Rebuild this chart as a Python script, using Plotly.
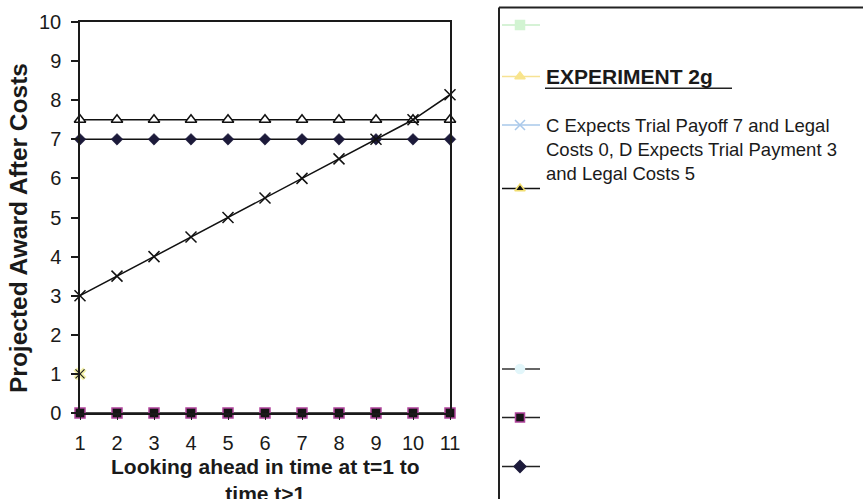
import plotly.graph_objects as go

# ---- data -------------------------------------------------------------
t = list(range(1, 12))
x_ticks = [str(v) for v in t]
y_ticks = list(range(0, 11))

projected_gap = [3.0, 3.5, 4.0, 4.5, 5.0, 5.5, 6.0, 6.5, 7.0, 7.5, 8.14]
c_expected = [7.5] * 11
d_expected = [7.0] * 11
zero_award = [0.0] * 11
first_step_t = [1]
first_step_val = [1.0]

legend_heading = "EXPERIMENT 2g"
legend_note = ("C Expects Trial Payoff 7 and Legal<br>"
               "Costs 0, D Expects Trial Payment 3<br>"
               "and Legal Costs 5")

FONT = "Liberation Sans, Arial, Helvetica, sans-serif"
W, H = 863, 499
# plot box in pixels
PL, PR, PT, PB = 80, 450, 22, 413

fig = go.Figure()

fig.add_trace(go.Scatter(
    x=t, y=c_expected, mode="lines+markers", cliponaxis=False,
    line=dict(color="#111111", width=1.5),
    marker=dict(symbol="triangle-up", size=10, color="white",
                line=dict(color="#111111", width=1.5))))
fig.add_trace(go.Scatter(
    x=t, y=d_expected, mode="lines+markers", cliponaxis=False,
    line=dict(color="#111111", width=1.5),
    marker=dict(symbol="diamond", size=9, color="#1c1a3a",
                line=dict(color="#1c1a3a", width=0.5))))
fig.add_trace(go.Scatter(
    x=t, y=projected_gap, mode="lines+markers", cliponaxis=False,
    line=dict(color="#111111", width=1.5),
    marker=dict(symbol="x-thin", size=11,
                line=dict(color="#111111", width=1.5))))
fig.add_trace(go.Scatter(
    x=t, y=zero_award, mode="lines+markers", cliponaxis=False,
    line=dict(color="#111111", width=1.5),
    marker=dict(symbol="square", size=10, color="#151515",
                line=dict(color="#b0449c", width=1.5))))
fig.add_trace(go.Scatter(
    x=first_step_t, y=first_step_val, mode="markers", cliponaxis=False,
    marker=dict(symbol="x", size=11, color="#f4f2a8",
                line=dict(color="#f4f2a8", width=0.5))))
fig.add_trace(go.Scatter(
    x=first_step_t, y=first_step_val, mode="markers", cliponaxis=False,
    marker=dict(symbol="x-thin", size=9,
                line=dict(color="#222222", width=1.2))))

# ---- legend panel (drawn on a pixel-scaled overlay axis) ---------------
LX0, LX1, LXM, LTX = 502, 540, 520, 545
legend_rows = [
    dict(y=25, line="#c8eec8", sym="square", mc="#d2f4d2", ml="#d2f4d2", ms=9),
    dict(y=76.5, line="#f6e294", sym="triangle-up", mc="#f8e48c", ml="#f8e48c", ms=9),
    dict(y=125, line="#a9c8ea", sym="x-thin", mc="#a9c8ea", ml="#a9c8ea", ms=10),
    dict(y=188.5, line="#111111", sym="triangle-up", mc="#111111", ml="#f2de70", ms=9),
    dict(y=369, line="#333333", sym="circle", mc="#e2f6fa", ml="#e2f6fa", ms=9),
    dict(y=417.5, line="#222222", sym="square", mc="#151515", ml="#b0449c", ms=9),
    dict(y=466.5, line="#222222", sym="diamond", mc="#1c1a3a", ml="#1c1a3a", ms=9),
]
for r in legend_rows:
    fig.add_trace(go.Scatter(
        x=[LX0, LX1], y=[r["y"], r["y"]], xaxis="x2", yaxis="y2",
        mode="lines", line=dict(color=r["line"], width=1.5),
        hoverinfo="skip", cliponaxis=False))
    fig.add_trace(go.Scatter(
        x=[LXM], y=[r["y"]], xaxis="x2", yaxis="y2", mode="markers",
        marker=dict(symbol=r["sym"], size=r["ms"], color=r["mc"],
                    line=dict(color=r["ml"], width=1.5)),
        hoverinfo="skip", cliponaxis=False))

annotations = [
    dict(text="<b>" + legend_heading + "</b>", x=LTX - 1, y=76.5, xref="x2", yref="y2",
         xanchor="left", yanchor="middle", showarrow=False,
         font=dict(family=FONT, size=21, color="#1a1a1a")),
    dict(text=legend_note, x=LTX - 1, y=149, xref="x2", yref="y2",
         xanchor="left", yanchor="middle", align="left", showarrow=False,
         font=dict(family=FONT, size=18.5, color="#1a1a1a")),
    dict(text="<b>Looking ahead in time at t=1 to<br>time t>1</b>",
         x=(PL + PR) / 2, y=480, xref="x2", yref="y2",
         xanchor="center", yanchor="middle", showarrow=False,
         font=dict(family=FONT, size=21, color="#1a1a1a")),
    dict(text="<b>Projected Award After Costs</b>", textangle=-90,
         x=18, y=228, xref="x2", yref="y2",
         xanchor="center", yanchor="middle", showarrow=False,
         font=dict(family=FONT, size=24.5, color="#1a1a1a")),
]

shapes = [
    # legend frame
    dict(type="line", xref="x2", yref="y2", x0=499, x1=499, y0=7.5, y1=H + 5,
         line=dict(color="#222222", width=2)),
    dict(type="line", xref="x2", yref="y2", x0=499, x1=W + 5, y0=7.5, y1=7.5,
         line=dict(color="#222222", width=2)),
    # heading underline
    dict(type="line", xref="x2", yref="y2", x0=LTX, x1=732, y0=88.3, y1=88.3,
         line=dict(color="#222222", width=1.5)),
]

fig.update_layout(
    width=W, height=H,
    margin=dict(l=0, r=0, t=0, b=0),
    paper_bgcolor="white", plot_bgcolor="rgba(0,0,0,0)",
    showlegend=False,
    font=dict(family=FONT, color="#1a1a1a"),
    xaxis=dict(
        domain=[PL / W, PR / W], range=[1, 11], tickvals=t, ticktext=x_ticks,
        showline=True, linecolor="#1a1a1a", linewidth=1.5, mirror=True,
        ticks="outside", ticklen=5, tickcolor="#1a1a1a", tickwidth=1.2,
        ticklabelstandoff=6,
        tickfont=dict(family=FONT, size=20, color="#1a1a1a"),
        showgrid=False, zeroline=False, automargin=False, fixedrange=True),
    yaxis=dict(
        domain=[1 - PB / H, 1 - PT / H], range=[0, 10], tickvals=y_ticks,
        showline=True, linecolor="#1a1a1a", linewidth=1.5, mirror=True,
        ticks="outside", ticklen=7, tickcolor="#1a1a1a", tickwidth=1.5,
        ticklabelstandoff=6,
        tickfont=dict(family=FONT, size=20, color="#1a1a1a"),
        showgrid=False, zeroline=False, automargin=False, fixedrange=True),
    xaxis2=dict(domain=[0, 1], range=[0, W], visible=False, fixedrange=True,
                anchor="y2"),
    yaxis2=dict(domain=[0, 1], range=[H, 0], visible=False, fixedrange=True,
                anchor="x2"),
    annotations=annotations,
    shapes=shapes,
)

fig.write_html("out.html")
